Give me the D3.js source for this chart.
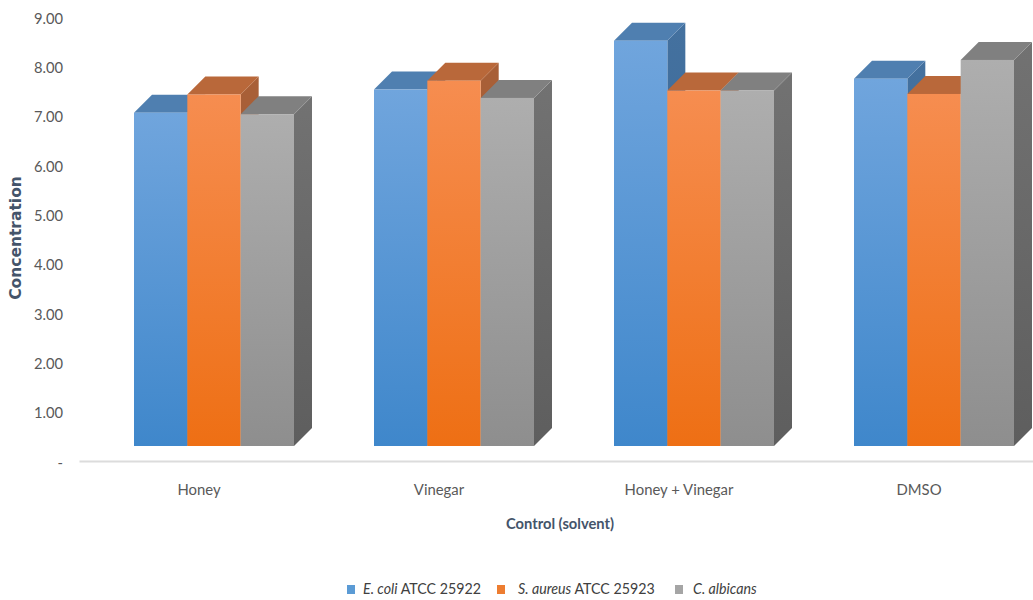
<!DOCTYPE html>
<html>
<head>
<meta charset="utf-8">
<script src="https://cdn.jsdelivr.net/npm/d3@7"></script>
<style>
html, body { margin: 0; padding: 0; background: #fff; }
svg { display: block; }
svg text { font-family: Lato, "Open Sans", sans-serif; }
svg text.wide { font-family: "DejaVu Sans", sans-serif; }
.tick text { fill: #595959; }
</style>
</head>
<body>
<svg id="chart" width="1033" height="600"></svg>
<script>
// Chart values
const categories = ["Honey", "Vinegar", "Honey + Vinegar", "DMSO"];
const seriesNames = ["E. coli ATCC 25922", "S. aureus ATCC 25923", "C. albicans"];
const ecoli = [7.08, 7.55, 8.54, 7.77];
const saureus = [7.45, 7.73, 7.53, 7.46];
const calbicans = [7.05, 7.38, 7.53, 8.15];
const yTicks = [0, 1, 2, 3, 4, 5, 6, 7, 8, 9];
const seriesValues = [ecoli, saureus, calbicans];

// Colours of each series: front gradient, top face, side gradient
const palette = [
  { front: ["#70a5dd", "#3f87cb"], top: "#4f7fb0", side: ["#44719f", "#356595"] },
  { front: ["#f68d50", "#ee6f14"], top: "#b9683a", side: ["#a85f37", "#a85f37"] },
  { front: ["#aeaeae", "#8e8e8e"], top: "#808080", side: ["#727272", "#5e5e5e"] }
];

const svg = d3.select("#chart");
const y = d3.scaleLinear().domain([0, 9]).range([462, 18]);
const x = d3.scaleBand().domain(categories).range([79, 1039]);
const inner = d3.scaleBand().domain(d3.range(3)).range([-65, 95]);

// Extruded column settings
const depth = 18;
const floorY = y(0) - 16;

const defs = svg.append("defs");
palette.forEach((p, i) => {
  ["front", "side"].forEach(face => {
    const g = defs.append("linearGradient")
      .attr("id", `${face}${i}`)
      .attr("x1", 0).attr("y1", 0).attr("x2", 0).attr("y2", 1);
    g.append("stop").attr("offset", "0%").attr("stop-color", p[face][0]);
    g.append("stop").attr("offset", "100%").attr("stop-color", p[face][1]);
  });
});

// Category axis
const xAxis = svg.append("g")
  .attr("transform", `translate(0,${y(0) - 1})`)
  .call(d3.axisBottom(x).tickSize(0).tickPadding(23));
xAxis.select(".domain").attr("stroke", "#dcdcdc").attr("stroke-width", 2);
xAxis.selectAll(".tick text")
  .attr("font-size", 16)
  .attr("transform", "scale(0.93,1)");

// Value axis
const yAxis = svg.append("g")
  .attr("transform", "translate(63,0)")
  .call(d3.axisLeft(y).tickValues(yTicks).tickSize(0).tickPadding(0)
    .tickFormat(d => d === 0 ? "-" : d3.format(".2f")(d)));
yAxis.select(".domain").remove();
yAxis.selectAll(".tick text")
  .attr("font-size", 16)
  .attr("transform", "scale(0.92,1)");

// Columns are painted left to right so each one covers its left neighbour's side
categories.forEach((cat, c) => {
  seriesValues.forEach((vals, s) => {
    const x0 = x(cat) + x.bandwidth() / 2 + inner(s);
    const x1 = x0 + inner.bandwidth();
    const top = y(vals[c]);
    const g = svg.append("g").attr("class", "column");
    const poly = pts => pts.map(p => p.join(",")).join(" ");
    g.append("polygon")
      .attr("points", poly([[x1, top], [x1 + depth, top - depth], [x1 + depth, floorY - depth], [x1, floorY]]))
      .attr("fill", `url(#side${s})`);
    g.append("polygon")
      .attr("points", poly([[x0, top], [x0 + depth, top - depth], [x1 + depth, top - depth], [x1, top]]))
      .attr("fill", palette[s].top);
    g.append("rect")
      .attr("x", x0).attr("y", top)
      .attr("width", inner.bandwidth()).attr("height", floorY - top)
      .attr("fill", `url(#front${s})`);
  });
});

// Axis titles
svg.append("text")
  .attr("class", "wide")
  .attr("transform", "translate(21,238) rotate(-90)")
  .attr("text-anchor", "middle")
  .attr("font-size", 15.5)
  .attr("font-weight", "bold")
  .attr("fill", "#44546a")
  .text("Concentration");

svg.append("text")
  .attr("transform", "translate(560,529) scale(0.92,1)")
  .attr("text-anchor", "middle")
  .attr("font-size", 16)
  .attr("font-weight", "bold")
  .attr("fill", "#44546a")
  .text("Control (solvent)");

// Legend
const legendX = [347, 497, 675];
const legendTextX = [363, 518, 693];
const swatches = ["#5b9bd5", "#ed7d31", "#a5a5a5"];
seriesNames.forEach((name, i) => {
  svg.append("rect")
    .attr("x", legendX[i]).attr("y", 585)
    .attr("width", 8).attr("height", 9)
    .attr("fill", swatches[i]);
  const parts = name.split(" ATCC");
  const t = svg.append("text")
    .attr("transform", `translate(${legendTextX[i]},594) scale(0.89,1)`)
    .attr("font-size", 16)
    .attr("fill", "#404040");
  t.append("tspan").attr("font-style", "italic").text(parts[0]);
  if (parts[1]) t.append("tspan").text(" ATCC" + parts[1]);
});
</script>
</body>
</html>
